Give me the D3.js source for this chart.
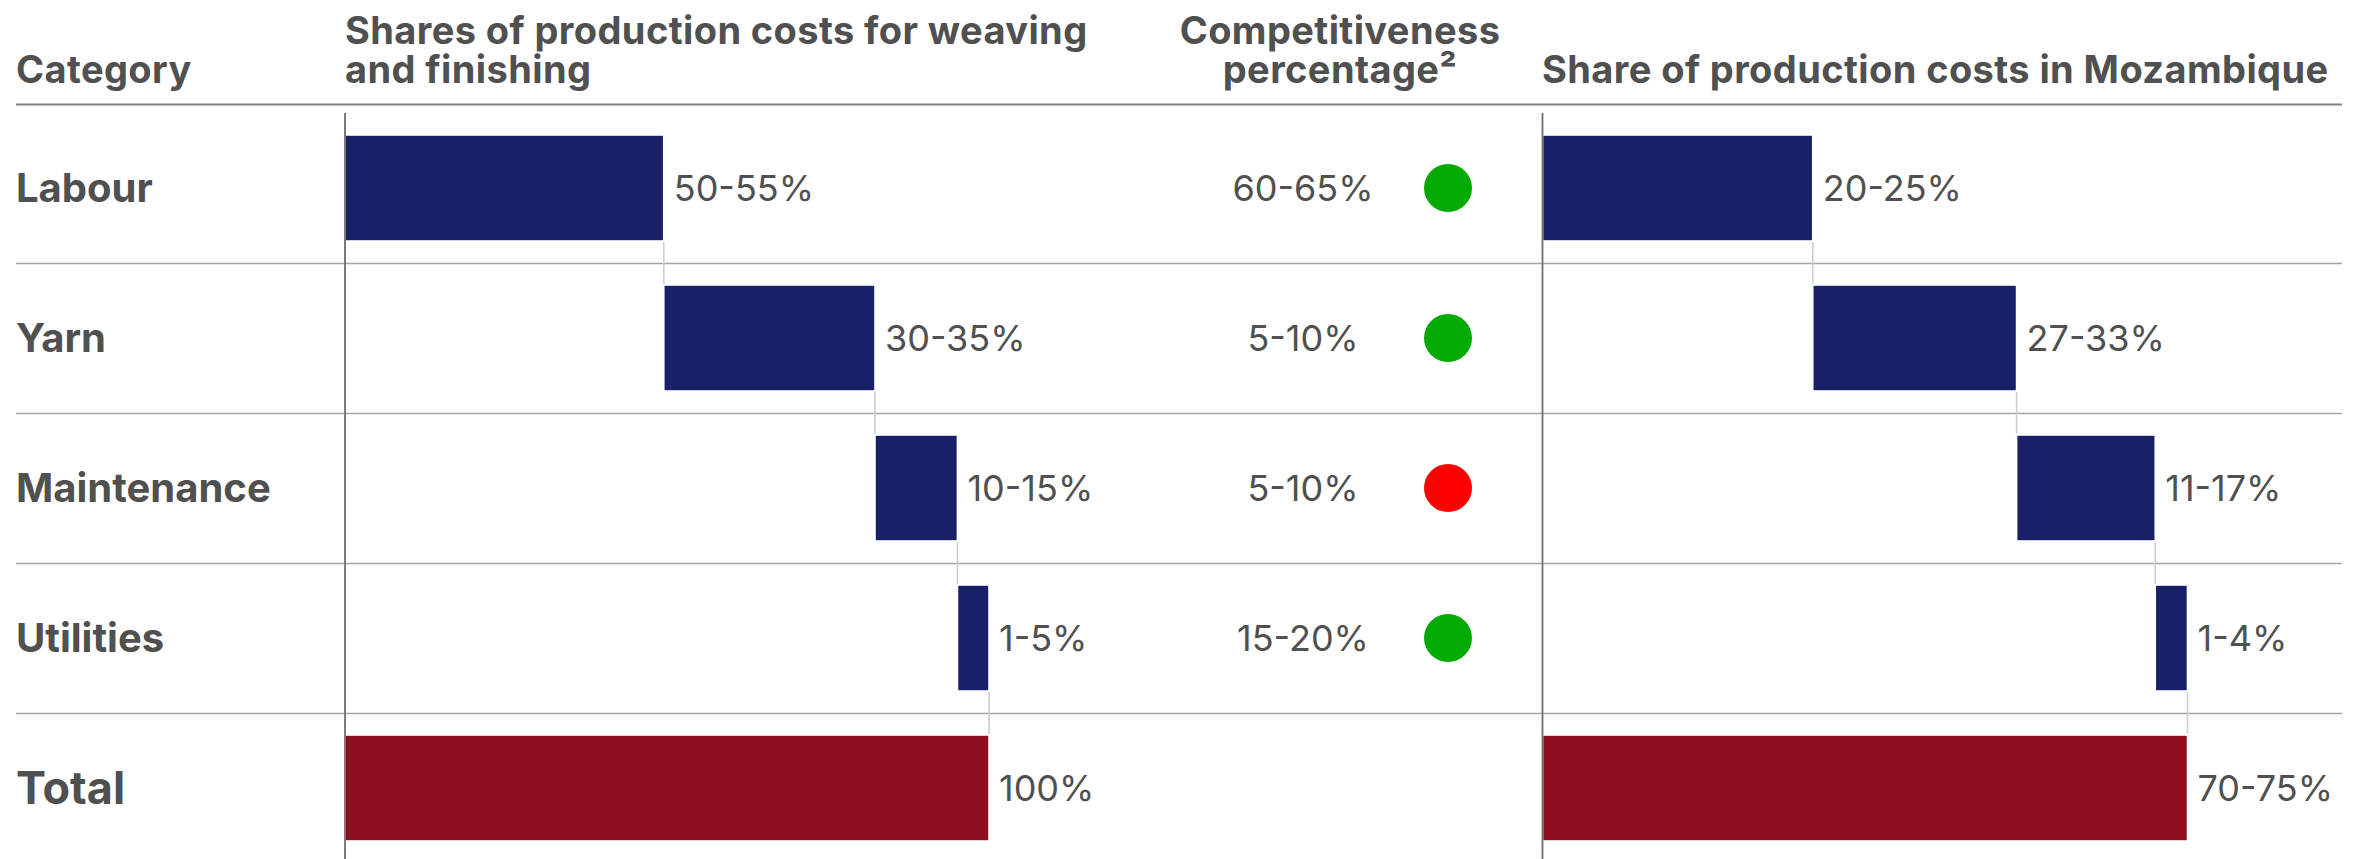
<!DOCTYPE html>
<html>
<head>
<meta charset="utf-8">
<script src="https://cdn.jsdelivr.net/npm/d3@7"></script>
<style>
  html, body { margin: 0; padding: 0; background: #ffffff; }
  svg { display: block; }
  text { font-family: Inter, "Open Sans", sans-serif; fill: #505050; }
</style>
</head>
<body>
<svg id="chart" width="2364" height="859"></svg>
<script>
// ---------------- data ----------------
const categories = ["Labour", "Yarn", "Maintenance", "Utilities", "Total"];
const headerCategory = "Category";
const headerWeaving = ["Shares of production costs for weaving", "and finishing"];
const headerCompetitiveness = ["Competitiveness", "percentage²"];
const headerMozambique = "Share of production costs in Mozambique";

// waterfall step widths (share of total bar length)
const weavingValues = [49.5, 32.8, 12.8, 4.9];
const weavingTotal = 100;
const weavingLabels = ["50-55%", "30-35%", "10-15%", "1-5%", "100%"];

const competitivenessLabels = ["60-65%", "5-10%", "5-10%", "15-20%"];
const competitivenessStatus = ["good", "good", "bad", "good"];

const mozambiqueValues = [41.9, 31.6, 21.5, 5.0];
const mozambiqueTotal = 100;
const mozambiqueLabels = ["20-25%", "27-33%", "11-17%", "1-4%", "70-75%"];

// ---------------- layout ----------------
const W = 2364, H = 859;
const svg = d3.select("#chart");
const C = {
  text: "#505050",
  navy: "#1a2067",
  red: "#8e0e20",
  good: "#04aa04",
  bad: "#ff0000",
  rule: "#808080",
  sep: "#a3a3a3",
  axis: "#6e6e6e",
  conn: "#cfcfcf"
};

const lineLeft = 16, lineRight = 2342;
const y = d3.scaleBand().domain(categories).range([113, 863]).paddingInner(0).paddingOuter(0);
const barH = 106;

const xWeave = d3.scaleLinear().domain([0, weavingTotal]).range([345, 989]);
const xMoz = d3.scaleLinear().domain([0, mozambiqueTotal]).range([1542.5, 2187.5]);

// ---- header ----
const hdr = svg.append("g").attr("font-weight", 700).attr("font-size", 38)
  .attr("letter-spacing", "0.4px");
hdr.append("text").attr("x", lineLeft).attr("y", 83).text(headerCategory);

function multiLine(x, lines, anchor) {
  const t = hdr.append("text").attr("x", x).attr("y", 44).attr("text-anchor", anchor);
  lines.forEach((s, i) => {
    t.append("tspan").attr("x", x).attr("y", 44 + i * 39).text(s);
  });
}
multiLine(345, headerWeaving, "start");
multiLine(1340, headerCompetitiveness, "middle");
hdr.append("text").attr("x", 1542).attr("y", 83).text(headerMozambique);

svg.append("line").attr("x1", lineLeft).attr("x2", lineRight)
  .attr("y1", 104.5).attr("y2", 104.5)
  .attr("stroke", C.rule).attr("stroke-width", 2.2);

// ---- row separators ----
svg.append("g").selectAll("line")
  .data(categories.slice(1))
  .join("line")
  .attr("x1", lineLeft).attr("x2", lineRight)
  .attr("y1", d => Math.round(y(d)) + 0.5).attr("y2", d => Math.round(y(d)) + 0.5)
  .attr("stroke", C.sep).attr("stroke-width", 1.6);

// ---- category labels ----
svg.append("g").selectAll("text")
  .data(categories)
  .join("text")
  .attr("x", lineLeft)
  .attr("y", d => y(d) + y.bandwidth() / 2)
  .attr("dy", "0.36em")
  .attr("font-weight", 700)
  .attr("font-size", d => d === "Total" ? 45 : 40)
  .text(d => d);

// ---- waterfall builder ----
function waterfall(values, total, labels, x) {
  const steps = [];
  let acc = 0;
  values.forEach((v, i) => {
    steps.push({ cat: categories[i], x0: acc, x1: acc + v, label: labels[i], total: false });
    acc += v;
  });
  steps.push({ cat: "Total", x0: 0, x1: total, label: labels[labels.length - 1], total: true });

  const g = svg.append("g");

  // connectors
  const conns = [];
  for (let i = 0; i < steps.length - 1; i++) {
    const a = steps[i], b = steps[i + 1];
    conns.push({
      x: a.x1,
      yA: y(a.cat) + y.bandwidth() / 2 + barH / 2,
      yB: y(b.cat) + y.bandwidth() / 2 - barH / 2
    });
  }
  g.selectAll("line.conn").data(conns).join("line")
    .attr("class", "conn")
    .attr("x1", d => x(d.x)).attr("x2", d => x(d.x))
    .attr("y1", d => d.yA + 1).attr("y2", d => d.yB - 1)
    .attr("stroke", C.conn).attr("stroke-width", 1.6);

  g.selectAll("rect").data(steps).join("rect")
    .attr("x", d => x(d.x0))
    .attr("width", d => x(d.x1) - x(d.x0))
    .attr("y", d => y(d.cat) + y.bandwidth() / 2 - barH / 2)
    .attr("height", barH)
    .attr("fill", d => d.total ? C.red : C.navy)
    .attr("stroke", "#ffffff").attr("stroke-width", 1.6);

  g.selectAll("text").data(steps).join("text")
    .attr("x", d => x(d.x1) + 10)
    .attr("y", d => y(d.cat) + y.bandwidth() / 2)
    .attr("dy", "0.36em")
    .attr("font-size", 36)
    .attr("font-weight", 400)
    .text(d => d.label);

  // axis line
  g.append("line")
    .attr("x1", x(0)).attr("x2", x(0))
    .attr("y1", 113).attr("y2", H)
    .attr("stroke", C.axis).attr("stroke-width", 1.8);
}

waterfall(weavingValues, weavingTotal, weavingLabels, xWeave);
waterfall(mozambiqueValues, mozambiqueTotal, mozambiqueLabels, xMoz);

// ---- competitiveness column ----
const comp = svg.append("g");
const compCats = categories.slice(0, competitivenessLabels.length);
comp.selectAll("text").data(compCats).join("text")
  .attr("x", 1303)
  .attr("y", d => y(d) + y.bandwidth() / 2)
  .attr("dy", "0.36em")
  .attr("text-anchor", "middle")
  .attr("font-size", 36)
  .text((d, i) => competitivenessLabels[i]);
comp.selectAll("circle").data(compCats).join("circle")
  .attr("cx", 1448)
  .attr("cy", d => y(d) + y.bandwidth() / 2)
  .attr("r", 24)
  .attr("fill", (d, i) => competitivenessStatus[i] === "good" ? C.good : C.bad);
</script>
</body>
</html>
